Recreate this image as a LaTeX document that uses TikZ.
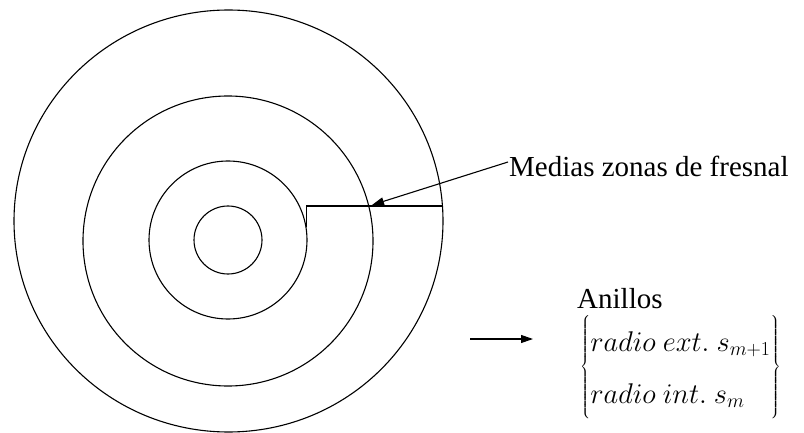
\documentclass[tikz,border=0pt]{standalone}
\usepackage{fontspec}
\setmainfont{Liberation Serif}
\usetikzlibrary{arrows.meta}
\tikzset{
  ring/.style={draw=black, line width=1.1pt},
  conn/.style={draw=black, line width=1.1pt},
  arr/.style={draw=black, line width=1.1pt, -{Triangle[length=12pt,width=8pt]}},
  lbl/.style={inner sep=0pt, font=\fontsize{29}{34}\selectfont},
}
\begin{document}
\begin{tikzpicture}[x=1pt,y=-1pt]
\useasboundingbox (0,0) rectangle (804,433);
% rings
\draw[ring] (228.5,221) ellipse [x radius=214.5, y radius=211];
\draw[ring] (228,241) circle [radius=145];
\draw[ring] (228,240) circle [radius=79];
\draw[ring] (228,240) circle [radius=34];
% half-zone boundary line
\coordinate (p0) at (306.5,227.5);
\coordinate (p1) at (306.5,206);
\coordinate (p2) at (442.5,206);
\draw[conn] (p0) -- (p1) -- (p2);
% label and arrow
\node[lbl, anchor=base west] (medias) at (509,177) {Medias zonas de fresnal};
\coordinate (a1s) at (508,162);
\coordinate (a1e) at (372,205);
\draw[arr] (a1s) -- (a1e);
% second arrow
\coordinate (a2s) at (470,339);
\coordinate (a2e) at (533,339);
\draw[arr] (a2s) -- (a2e);
% Anillos
\node[lbl, anchor=base west] (anillos) at (577,308) {Anillos};
\node[inner sep=0pt, anchor=west, scale=1.145, font=\fontsize{24.88}{30}\selectfont] (radios) at (580,367)
  {\renewcommand{\arraystretch}{1.5}$\left\{\begin{array}{@{}l@{}} radio\ ext.\ s_{\scriptscriptstyle m{+}1}\\ radio\ int.\ s_{\scriptscriptstyle m}\end{array}\right\}$};
\end{tikzpicture}
\end{document}
